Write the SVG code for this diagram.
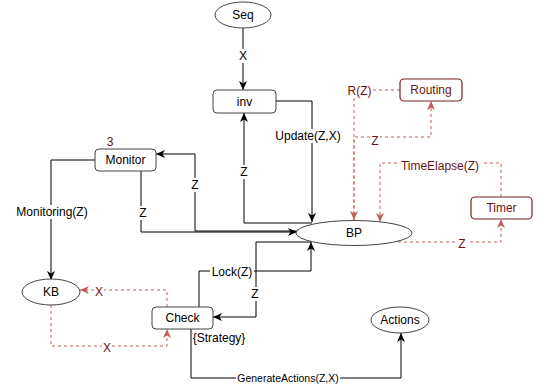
<svg xmlns="http://www.w3.org/2000/svg" width="541" height="389" viewBox="0 0 541 389">
<style>
text{font-family:"Liberation Sans",Arial,sans-serif;font-size:12px;text-anchor:middle;dominant-baseline:central;fill:#000}
.node{fill:#fff;stroke:#444;stroke-width:1}
.rnode{fill:#fff;stroke:#7b1f1f;stroke-width:1.2}
.rt{fill:#6e1313}
.e{fill:none;stroke:#000;stroke-width:1}
.r{fill:none;stroke:#c0605a;stroke-width:1;stroke-dasharray:3 3}
.bg{fill:#fff}
.small{font-size:10.5px}
</style>
<defs>
<marker id="ab" markerUnits="userSpaceOnUse" markerWidth="10" markerHeight="10" refX="9" refY="4" orient="auto"><path d="M0,0 L9,4 L0,8 L2.5,4 Z" fill="#000"/></marker>
<marker id="ar" markerUnits="userSpaceOnUse" markerWidth="10" markerHeight="10" refX="9" refY="4" orient="auto"><path d="M0,0 L9,4 L0,8 L2.5,4 Z" fill="#c0605a"/></marker>
</defs>
<g id="connectors">
<path class="e" d="M243,28 V90" marker-end="url(#ab)"/>
<path class="e" d="M276,101 H312 V222" marker-end="url(#ab)"/>
<path class="e" d="M312,223 H244 V113" marker-end="url(#ab)"/>
<path class="e" d="M95,160 H51 V280" marker-end="url(#ab)"/>
<path class="e" d="M141,171 V232 H297" marker-end="url(#ab)"/>
<path class="e" d="M297,231 H195 V154 H156" marker-end="url(#ab)"/>
<path class="e" d="M199,307 V271 H311 V242" marker-end="url(#ab)"/>
<path class="e" d="M311,242 H256 V317 H213" marker-end="url(#ab)"/>
<path class="e" d="M191,329 V378 H401 V333" marker-end="url(#ab)"/>
<path class="r" d="M400,90 H354 V220" marker-end="url(#ar)"/>
<path class="r" d="M354,220 V137 H431 V101" marker-end="url(#ar)"/>
<path class="r" d="M501,197 V163 H380 V222" marker-end="url(#ar)"/>
<path class="r" d="M398,242 H501 V219" marker-end="url(#ar)"/>
<path class="r" d="M167,307 V290 H80" marker-end="url(#ar)"/>
<path class="r" d="M51,305 V346 H167 V329" marker-end="url(#ar)"/>
<rect class="bg" x="238" y="49" width="10" height="14"/><text x="243" y="56">X</text>
<rect class="bg" x="273" y="129" width="70" height="14"/><text x="308" y="136">Update(Z,X)</text>
<rect class="bg" x="239" y="165" width="10" height="14"/><text x="244" y="172">Z</text>
<rect class="bg" x="14" y="205" width="76" height="14"/><text x="52" y="212">Monitoring(Z)</text>
<rect class="bg" x="138" y="206" width="10" height="14"/><text x="143" y="213">Z</text>
<rect class="bg" x="190" y="178" width="10" height="14"/><text x="195" y="185">Z</text>
<rect class="bg" x="210" y="265" width="44" height="14"/><text x="232" y="272">Lock(Z)</text>
<rect class="bg" x="250" y="287" width="10" height="14"/><text x="255" y="294">Z</text>
<rect class="bg" x="236" y="372" width="104" height="12"/><text class="small" x="288" y="378">GenerateActions(Z,X)</text>
<text x="219" y="338">{Strategy}</text>
<rect class="bg" x="346" y="84" width="27" height="14"/><text class="rt" x="359.5" y="91">R(Z)</text>
<rect class="bg" x="370" y="134" width="10" height="14"/><text class="rt" x="375" y="141">Z</text>
<rect class="bg" x="398" y="159" width="85" height="14"/><text class="rt" x="440" y="166">TimeElapse(Z)</text>
<rect class="bg" x="457" y="237" width="10" height="14"/><text class="rt" x="462" y="244">Z</text>
<rect class="bg" x="94" y="285" width="10" height="14"/><text class="rt" x="99" y="292">X</text>
<rect class="bg" x="102" y="341" width="10" height="14"/><text class="rt" x="107" y="348">X</text>
</g>
<g id="Seq"><ellipse class="node" cx="243" cy="15" rx="28" ry="13"/><text x="243" y="15">Seq</text></g>
<g id="inv"><rect class="node" x="213" y="90" width="63" height="23" rx="4"/><text x="244.5" y="101.5">inv</text></g>
<g id="Monitor"><rect class="node" x="95" y="149" width="61" height="22" rx="4"/><text x="125.5" y="160">Monitor</text><text class="rt" x="110" y="142">3</text></g>
<g id="BP"><ellipse class="node" cx="354" cy="233" rx="58" ry="12.5"/><text x="354" y="233">BP</text></g>
<g id="KB"><ellipse class="node" cx="51" cy="292" rx="29" ry="13"/><text x="51" y="292">KB</text></g>
<g id="Check"><rect class="node" x="152" y="307" width="61" height="22" rx="4"/><text x="182.5" y="318">Check</text></g>
<g id="Actions"><ellipse class="node" cx="400" cy="320" rx="29" ry="13"/><text x="400" y="320">Actions</text></g>
<g id="Routing"><rect class="rnode" x="400" y="79" width="62" height="22" rx="4"/><text class="rt" x="431" y="90">Routing</text></g>
<g id="Timer"><rect class="rnode" x="471" y="197" width="61" height="22" rx="4"/><text class="rt" x="501.5" y="208">Timer</text></g>
</svg>
